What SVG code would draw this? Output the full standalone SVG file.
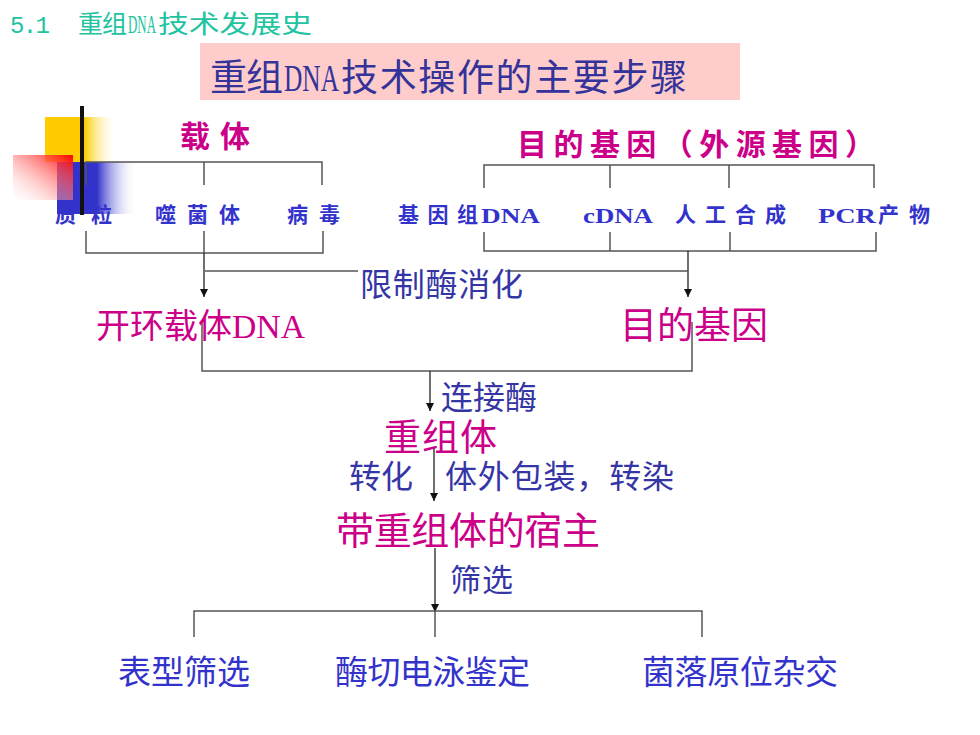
<svg xmlns="http://www.w3.org/2000/svg" width="980" height="735" viewBox="0 0 980 735">
<defs>
<linearGradient id="gY" x1="0" y1="0" x2="1" y2="0"><stop offset="0" stop-color="#ffcc00"/><stop offset="0.55" stop-color="#ffcc00"/><stop offset="1" stop-color="#ffffff" stop-opacity="0"/></linearGradient>
<linearGradient id="gB" x1="0" y1="0" x2="1" y2="0"><stop offset="0" stop-color="#3333cc"/><stop offset="0.5" stop-color="#3333cc"/><stop offset="1" stop-color="#ffffff" stop-opacity="0"/></linearGradient>
<linearGradient id="gR" x1="1" y1="0" x2="0" y2="1"><stop offset="0" stop-color="#ff0000"/><stop offset="1" stop-color="#ffffff" stop-opacity="0.2"/></linearGradient>
<linearGradient id="gL" x1="0" y1="0" x2="1" y2="0"><stop offset="0" stop-color="#111111"/><stop offset="0.3" stop-color="#333333"/><stop offset="0.75" stop-color="#aaaaaa"/><stop offset="1" stop-color="#ffffff"/></linearGradient>
<marker id="arr" markerWidth="8" markerHeight="8" refX="8" refY="4" orient="auto" markerUnits="userSpaceOnUse" viewBox="0 0 8 8"><path d="M0,0 L8,4 L0,8 z" fill="#111"/></marker>
</defs>
<style>
.ln{stroke:#555;stroke-width:1.5;fill:none}
.ar{stroke:#222;stroke-width:1.3;fill:none}
.cj{font-family:"Noto Sans CJK SC",sans-serif}
.mg{fill:#cc0088}
.bl{fill:#3535a5}
.bb{fill:#3333cc}
.rw{fill:#3333cc;font-weight:bold;font-size:21px;font-family:"Noto Sans CJK SC",serif}
.lat{font-family:"Liberation Serif",serif;font-weight:bold}
</style>
<rect width="980" height="735" fill="#ffffff"/>

<g id="decor">
<rect x="45" y="117" width="72" height="45" fill="url(#gY)"/>
<rect x="57" y="162" width="80" height="52" fill="url(#gB)"/>
<rect x="13" y="155" width="60" height="45" fill="url(#gR)"/>
<line x1="47" y1="192" x2="965" y2="192" stroke="url(#gL)" stroke-width="4"/>
</g>

<g id="header" fill="#22c3a0">
<text x="10" y="33" font-size="24" font-family="Liberation Mono,monospace" textLength="40">5.1</text>
<text x="78" y="33" font-size="25" class="cj" textLength="49">重组</text>
<text x="128" y="33" font-size="25" font-family="Liberation Serif,serif" textLength="28" lengthAdjust="spacingAndGlyphs">DNA</text>
<text x="158" y="33" font-size="25" class="cj" textLength="154" lengthAdjust="spacingAndGlyphs">技术发展史</text>
</g>

<g id="title">
<rect x="200" y="43" width="540" height="57" fill="#ffcccc"/>
<text x="210" y="91" font-size="37" fill="#333399" class="cj" textLength="73">重组</text>
<text x="284" y="91" font-size="37" fill="#333399" font-family="Liberation Serif,serif" textLength="55" lengthAdjust="spacingAndGlyphs">DNA</text>
<text x="341" y="91" font-size="37" fill="#333399" class="cj" textLength="346">技术操作的主要步骤</text>
</g>

<g id="connectors">
<path class="ln" d="M86,185 V162 H322 V185 M204,162 V185"/>
<path class="ln" d="M86,231 V253 H323 V231 M204,231 V253"/>
<path class="ln" d="M484,188 V165 H874 V188 M610,165 V188 M729,165 V188"/>
<path class="ln" d="M484,232 V251 H876 V232 M610,232 V251 M730,232 V251"/>
<line class="ar" x1="204" y1="253" x2="204" y2="297" marker-end="url(#arr)"/>
<line class="ar" x1="688" y1="251" x2="688" y2="297" marker-end="url(#arr)"/>
<path class="ln" d="M205,271 H358 M505,271 H688"/>
<path class="ln" d="M202,322 V371 H692 V322"/>
<line class="ar" x1="430" y1="371" x2="430" y2="411" marker-end="url(#arr)"/>
<line class="ar" x1="434" y1="447" x2="434" y2="501" marker-end="url(#arr)"/>
<line class="ar" x1="435" y1="548" x2="435" y2="612" marker-end="url(#arr)"/>
<path class="ln" d="M194,637 V611 H702 V637 M435,611 V637"/>
<line x1="82" y1="106" x2="82" y2="215" stroke="#111" stroke-width="4"/>
</g>

<g id="vector">
<text x="180" y="147" font-size="30" font-weight="bold" class="cj mg" textLength="70">载体</text>
</g>
<g id="gene">
<text x="517" y="155" font-size="30" font-weight="bold" class="cj mg" textLength="358">目的基因（外源基因）</text>
</g>

<g id="plasmid"><text x="55" y="222" class="rw" textLength="57">质粒</text></g>
<g id="phage"><text x="155" y="222" class="rw" textLength="85">噬菌体</text></g>
<g id="virus"><text x="287" y="222" class="rw" textLength="53">病毒</text></g>
<g id="genomic"><text x="398" y="222" class="rw" textLength="80">基因组</text><text x="481" y="223" class="rw lat" font-size="27" textLength="59" lengthAdjust="spacingAndGlyphs">DNA</text></g>
<g id="cdna"><text x="583" y="223" class="rw lat" font-size="26" textLength="70" lengthAdjust="spacingAndGlyphs">cDNA</text></g>
<g id="synth"><text x="675" y="222" class="rw" textLength="111">人工合成</text></g>
<g id="pcr"><text x="818" y="223" class="rw lat" font-size="27" textLength="58" lengthAdjust="spacingAndGlyphs">PCR</text><text x="878" y="222" class="rw" textLength="52">产物</text></g>

<g id="restrict"><text x="360" y="296" font-size="32" class="cj bl" textLength="163">限制酶消化</text></g>
<g id="openvec"><text x="96" y="338" font-size="34" class="cj mg" textLength="136">开环载体</text><text x="232" y="338" font-size="34" class="mg" font-family="Liberation Serif,serif" textLength="73" lengthAdjust="spacingAndGlyphs">DNA</text></g>
<g id="target"><text x="620" y="339" font-size="37" class="cj mg" textLength="148">目的基因</text></g>
<g id="ligase"><text x="441" y="409" font-size="32" class="cj bl" textLength="96">连接酶</text></g>
<g id="recomb"><text x="384" y="451" font-size="37" class="cj mg" textLength="113">重组体</text></g>
<g id="transform"><text x="349" y="488" font-size="32" class="cj bl" textLength="64">转化</text></g>
<g id="package"><text x="445" y="488" font-size="32" class="cj bl" textLength="229">体外包装，转染</text></g>
<g id="host"><text x="336" y="544" font-size="38" class="cj mg" textLength="264">带重组体的宿主</text></g>
<g id="screen"><text x="450" y="591" font-size="31" class="cj bl" textLength="63">筛选</text></g>
<g id="pheno"><text x="118" y="684" font-size="33" class="cj bb" textLength="132">表型筛选</text></g>
<g id="digest"><text x="335" y="684" font-size="33" class="cj bb" textLength="195">酶切电泳鉴定</text></g>
<g id="colony"><text x="642" y="684" font-size="33" class="cj bb" textLength="196">菌落原位杂交</text></g>
</svg>
